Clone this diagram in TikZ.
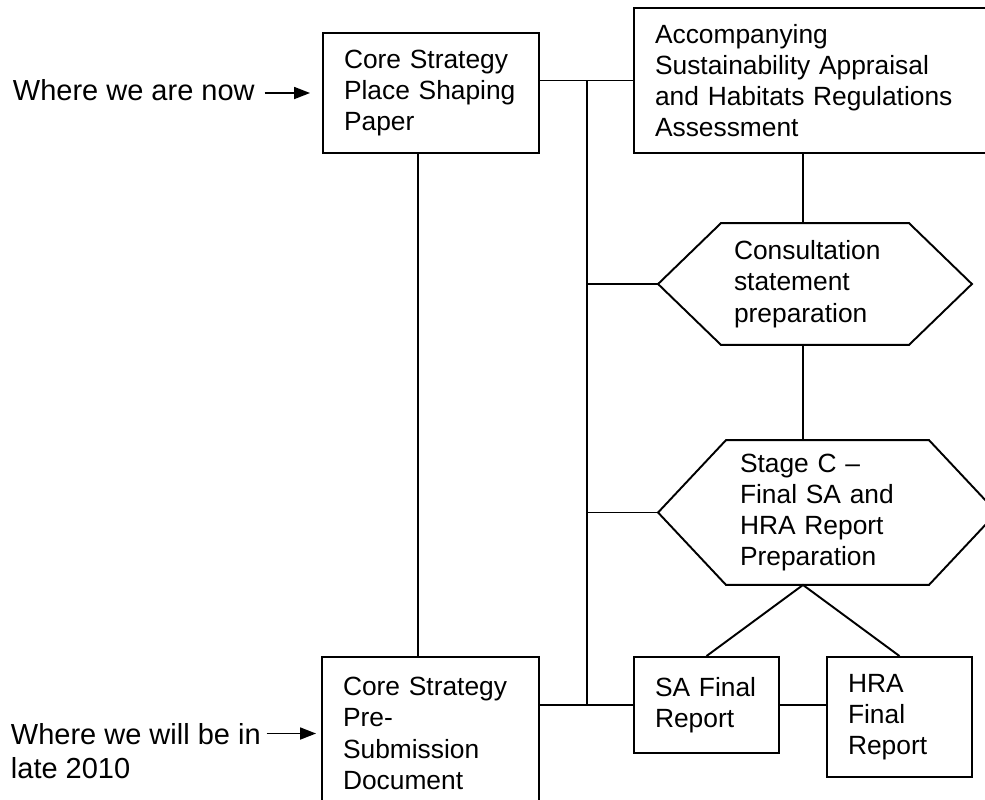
\documentclass[tikz,border=0pt]{standalone}
\usepackage{fontspec}
\setmainfont{Liberation Sans}
\usetikzlibrary{arrows.meta}

\begin{document}
\begin{tikzpicture}[x=0.02cm, y=-0.02cm, line width=1.1pt,
    box/.style={draw, rectangle, inner xsep=0.42cm, inner ysep=0pt, align=left, font=\fontsize{15}{17.8}\selectfont},
    hexnode/.style={rectangle, inner sep=0pt, align=left, font=\fontsize{15}{17.8}\selectfont},
    note/.style={inner sep=0pt, anchor=west, align=left, font=\fontsize{16.5}{19.5}\selectfont},
    pointer/.style={-{Triangle[length=0.32cm,width=0.24cm]}, line width=1pt}]
    \useasboundingbox (0,0) rectangle (985,799);

    % Core strategy documents
    \node[box, minimum width=4.32cm, minimum height=2.4cm, text width=3.48cm] (place) at (431,93) {Core Strategy\\Place Shaping\\Paper};
    \node[box, minimum width=4.34cm, minimum height=3.06cm, text width=3.5cm] (presub) at (430.5,733.5) {Core Strategy\\Pre-\\Submission\\Document};

    % Appraisal and consultation
    \node[box, minimum width=7.22cm, minimum height=2.9cm, text width=6.38cm] (appraisal) at (814.5,80.5) {Accompanying\\Sustainability Appraisal\\and Habitats Regulations\\Assessment};
    \node[hexnode, minimum width=6.24cm, minimum height=2.4cm, text width=3.24cm] (consult) at (815,284) {Consultation\\statement\\preparation};
    \draw (consult.west) -- ([xshift=1.26cm]consult.north west) -- ([xshift=-1.26cm]consult.north east) -- (consult.east)
        -- ([xshift=-1.26cm]consult.south east) -- ([xshift=1.26cm]consult.south west) -- cycle;
    \node[hexnode, minimum width=6.74cm, minimum height=2.86cm, text width=3.5cm] (stagec) at (827.5,512.5) {Stage C --\\Final SA and\\HRA Report\\Preparation};
    \draw (stagec.west) -- ([xshift=1.36cm]stagec.north west) -- ([xshift=-1.36cm]stagec.north east) -- (stagec.east)
        -- ([xshift=-1.36cm]stagec.south east) -- ([xshift=1.36cm]stagec.south west) -- cycle;

    % Final reports
    \node[box, minimum width=2.9cm, minimum height=1.92cm, text width=2.06cm] (safinal) at (706.5,705) {SA Final\\Report};
    \node[box, minimum width=2.9cm, minimum height=2.4cm, text width=2.06cm] (hrafinal) at (899.5,717) {HRA\\Final\\Report};

    % Side notes
    \node[note] (now) at (12,90) {Where we are now};
    \node[note] (later) at (10,751) {Where we will be in\\late 2010};
    \draw[pointer, shorten <=0.18cm, shorten >=0.24cm] (now.east |- place.west) -- (place.west);
    \draw[pointer, shorten <=0.1cm, shorten >=0.1cm] (later.north east |- presub.west) -- (presub.west);

    % Connecting lines
    \coordinate (spine) at (418,0);
    \coordinate (trunk) at (587,0);
    \coordinate (link) at (803,0);
    \draw (spine |- place.south) -- (spine |- presub.north);
    \draw (place.east |- appraisal.west) -- (appraisal.west);
    \draw (trunk |- appraisal.west) -- (trunk |- safinal.west);
    \draw (trunk |- consult.west) -- (consult.west);
    \draw (trunk |- stagec.west) -- (stagec.west);
    \draw (presub.east |- safinal.west) -- (safinal.west);
    \draw (safinal.east) -- (safinal.east -| hrafinal.west);
    \draw (link |- appraisal.south) -- (link |- consult.north);
    \draw (link |- consult.south) -- (link |- stagec.north);
    \draw (safinal.north) -- (link |- stagec.south) -- (hrafinal.north);
\end{tikzpicture}
\end{document}
